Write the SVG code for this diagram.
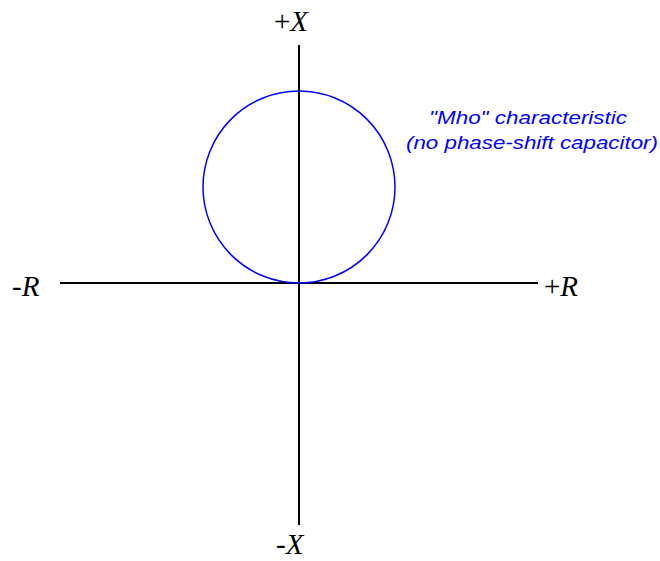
<svg xmlns="http://www.w3.org/2000/svg" width="660" height="561" viewBox="0 0 660 561">
<style>
.axis{stroke:#000;stroke-width:2;fill:none}
.lbl{font-family:"Liberation Serif",serif;font-size:29px;fill:#000}
.it{font-style:italic}
.note{font-family:"Liberation Sans",sans-serif;font-style:italic;font-size:19px;fill:#0000ff}
</style>
<rect width="660" height="561" fill="#fff"/>
<g id="connectors">
<line class="axis" x1="299" y1="45" x2="299" y2="525"/>
<line class="axis" x1="60" y1="283" x2="538" y2="283"/>
</g>
<g id="mho">
<circle cx="299" cy="187" r="96" fill="none" stroke="#0000ff" stroke-width="1.5"/>
</g>
<g id="label-px"><text class="lbl" x="274" y="31">+<tspan class="it">X</tspan></text></g>
<g id="label-nx"><text class="lbl" x="276" y="554">-<tspan class="it">X</tspan></text></g>
<g id="label-nr"><text class="lbl" x="12" y="296">-<tspan class="it">R</tspan></text></g>
<g id="label-pr"><text class="lbl" x="544" y="296">+<tspan class="it">R</tspan></text></g>
<g id="note">
<text class="note" x="429" y="124" textLength="198" lengthAdjust="spacingAndGlyphs">"Mho" characteristic</text>
<text class="note" x="406" y="149" textLength="252" lengthAdjust="spacingAndGlyphs">(no phase-shift capacitor)</text>
</g>
</svg>
